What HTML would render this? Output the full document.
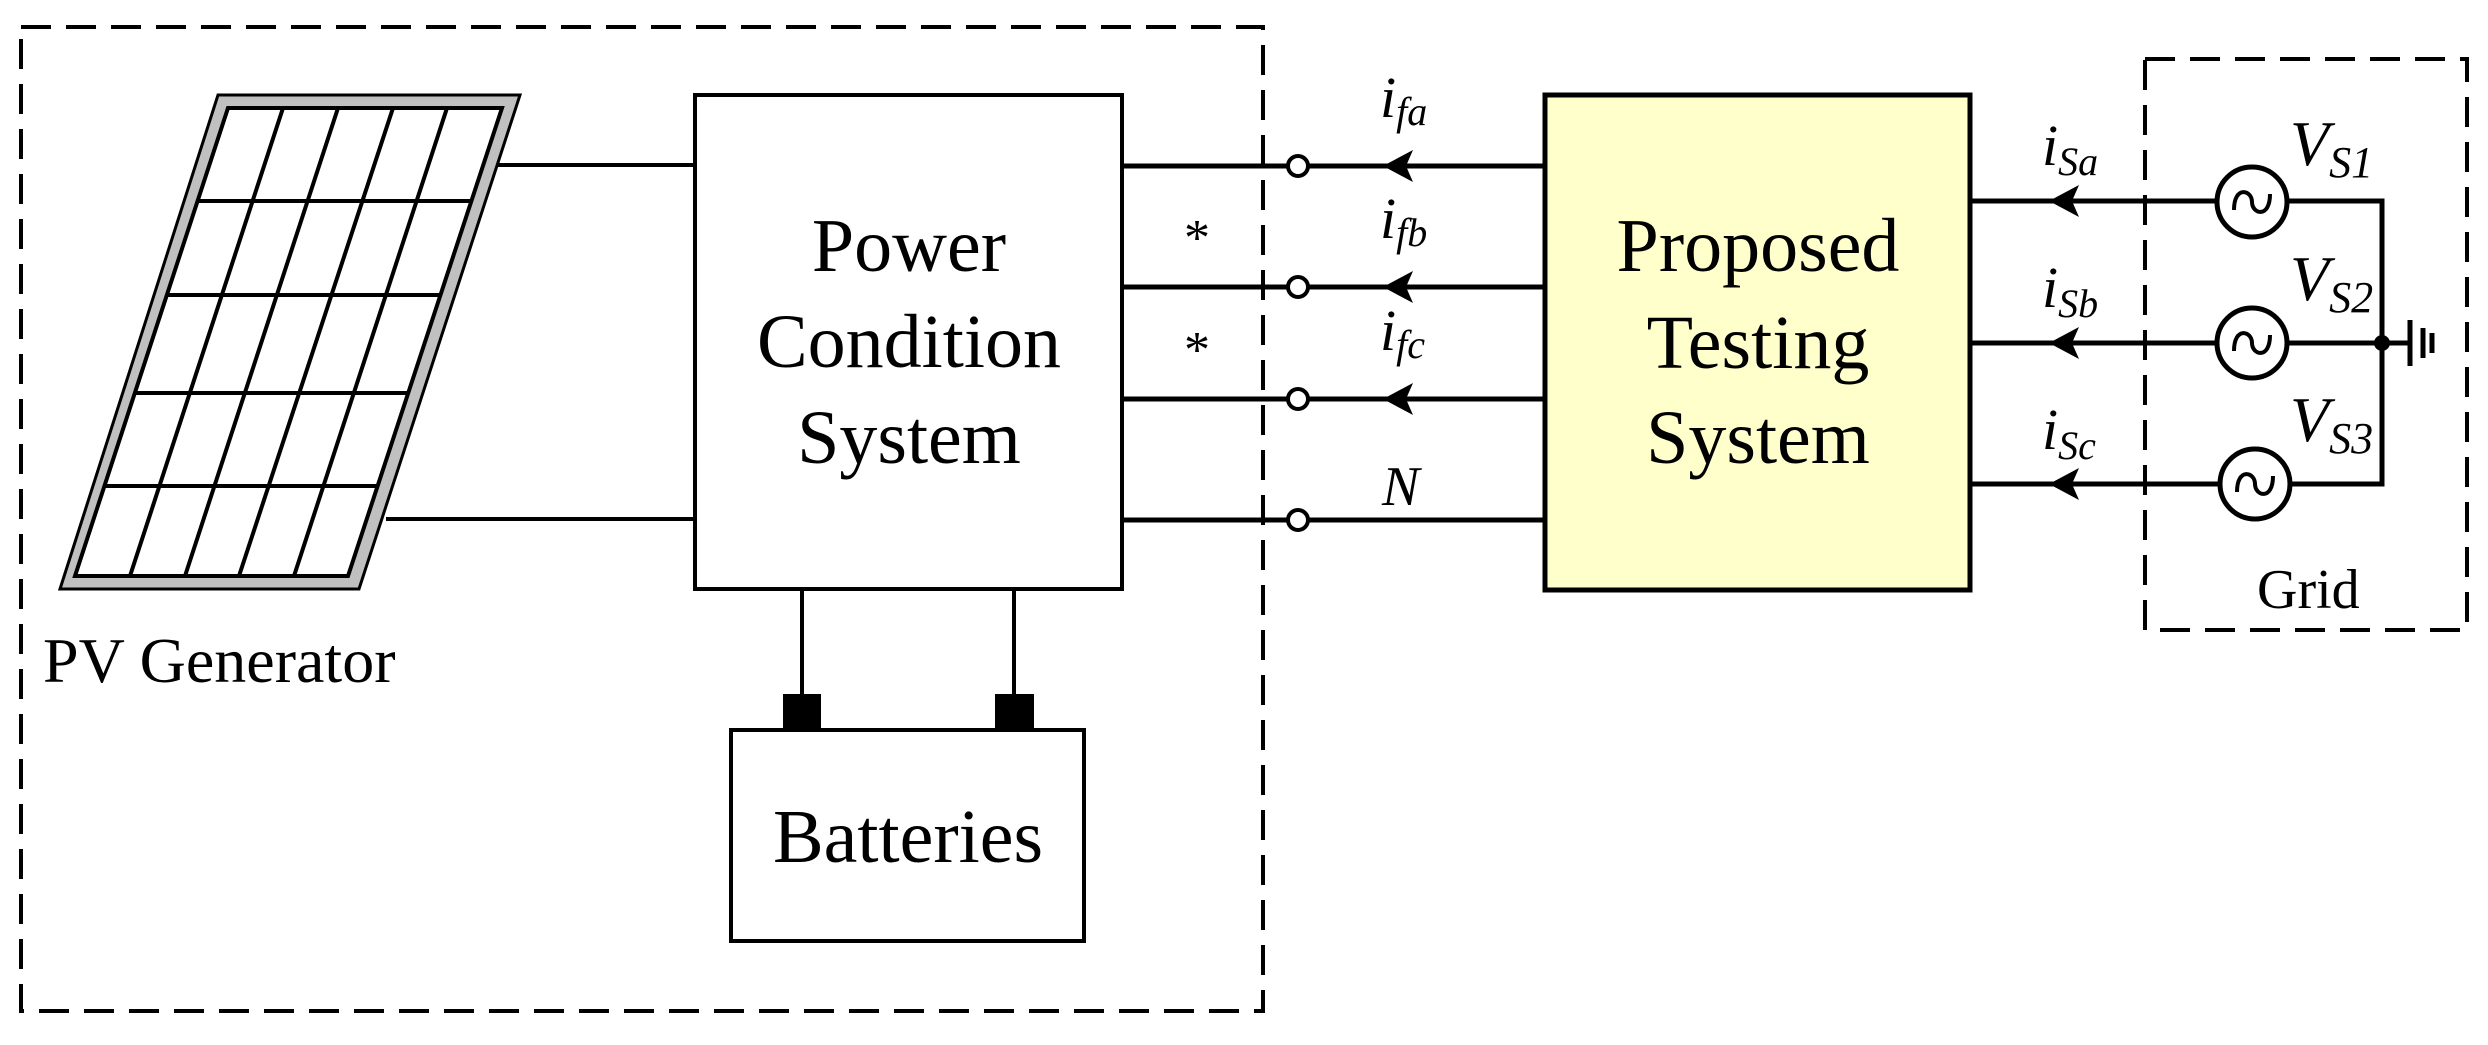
<!DOCTYPE html>
<html><head><meta charset="utf-8"><style>html,body{margin:0;padding:0;background:#fff}svg{display:block}</style></head>
<body>
<svg width="2488" height="1045" viewBox="0 0 2488 1045" xmlns="http://www.w3.org/2000/svg" font-family="'Liberation Serif', serif">
<rect width="2488" height="1045" fill="#fff"/>
<!-- dashed boxes -->
<rect x="21" y="27" width="1242" height="984" fill="none" stroke="#000" stroke-width="4" stroke-dasharray="30,15"/>
<rect x="2145" y="59" width="322" height="571" fill="none" stroke="#000" stroke-width="4" stroke-dasharray="30,15"/>
<!-- PV panel -->
<polygon points="218,95 520,95 359,589 60,589" fill="#c0c0c0" stroke="#000" stroke-width="3"/>
<polygon points="228,108 502,108 348,576 75,576" fill="#fff" stroke="#000" stroke-width="4"/>
<g stroke="#000" stroke-width="4">
<line x1="197.6" y1="201" x2="471.4" y2="201"/>
<line x1="166.9" y1="295" x2="440.5" y2="295"/>
<line x1="134.8" y1="393" x2="408.2" y2="393"/>
<line x1="104.4" y1="486" x2="377.6" y2="486"/>
<line x1="283" y1="108" x2="130" y2="576"/>
<line x1="338" y1="108" x2="185" y2="576"/>
<line x1="393" y1="108" x2="239" y2="576"/>
<line x1="447" y1="108" x2="294" y2="576"/>
</g>
<g stroke="#000" stroke-width="4" fill="none">
<line x1="497" y1="165" x2="695" y2="165"/>
<line x1="386" y1="519" x2="695" y2="519"/>
<rect x="695" y="95" width="427" height="494"/>
<line x1="802" y1="589" x2="802" y2="694"/>
<line x1="1014" y1="589" x2="1014" y2="694"/>
<rect x="731" y="730" width="353" height="211"/>
</g>
<rect x="783" y="694" width="38" height="36" fill="#000"/>
<rect x="995" y="694" width="39" height="36" fill="#000"/>
<!-- outputs -->
<g stroke="#000" stroke-width="5" fill="none">
<line x1="1122" y1="166" x2="1545" y2="166"/>
<line x1="1122" y1="287" x2="1545" y2="287"/>
<line x1="1122" y1="399" x2="1545" y2="399"/>
<line x1="1122" y1="520" x2="1545" y2="520"/>
</g>
<g stroke="#000" stroke-width="4" fill="#fff">
<circle cx="1298" cy="166" r="10"/>
<circle cx="1298" cy="287" r="10"/>
<circle cx="1298" cy="399" r="10"/>
<circle cx="1298" cy="520" r="10"/>
</g>
<g fill="#000">
<polygon points="1383,166 1413,150 1406,166 1413,182"/>
<polygon points="1383,287 1413,271 1406,287 1413,303"/>
<polygon points="1383,399 1413,383 1406,399 1413,415"/>
</g>
<!-- PTS -->
<rect x="1545" y="95" width="425" height="495" fill="#ffffcc" stroke="#000" stroke-width="5"/>
<!-- grid side -->
<g stroke="#000" stroke-width="5" fill="none">
<line x1="1970" y1="201" x2="2216" y2="201"/>
<line x1="1970" y1="343" x2="2216" y2="343"/>
<line x1="1970" y1="484" x2="2219" y2="484"/>
<polyline points="2288,201 2382,201 2382,484 2291,484"/>
<line x1="2288" y1="343" x2="2410" y2="343"/>
<circle cx="2252" cy="202" r="35"/>
<circle cx="2252" cy="343" r="35"/>
<circle cx="2255" cy="484" r="35"/>
<line x1="2410" y1="320" x2="2410" y2="366"/>
<line x1="2423" y1="328" x2="2423" y2="358"/>
<line x1="2432" y1="333" x2="2432" y2="353"/>
</g>
<g stroke="#000" stroke-width="4" fill="none">
<path d="M2234,210 C2234,185 2252,190 2252,202 C2252,214 2270,219 2270,194"/>
<path d="M2234,351 C2234,326 2252,331 2252,343 C2252,355 2270,360 2270,335"/>
<path d="M2237,492 C2237,467 2255,472 2255,484 C2255,496 2273,501 2273,476"/>
</g>
<circle cx="2382" cy="343" r="8" fill="#000"/>
<g fill="#000">
<polygon points="2049,201 2079,185 2072,201 2079,217"/>
<polygon points="2049,343 2079,327 2072,343 2079,359"/>
<polygon points="2049,484 2079,468 2072,484 2079,500"/>
</g>
<!-- text -->
<g font-size="76" text-anchor="middle" fill="#000">
<text x="909" y="271">Power</text>
<text x="909" y="367">Condition</text>
<text x="909" y="463">System</text>
<text x="908" y="862">Batteries</text>
<text x="1758" y="271">Proposed</text>
<text x="1758" y="368">Testing</text>
<text x="1758" y="463">System</text>
</g>
<text x="43" y="682" font-size="64" fill="#000">PV Generator</text>
<text x="2257" y="608" font-size="56" fill="#000">Grid</text>
<g font-size="52" text-anchor="middle" fill="#000">
<text x="1197" y="255">*</text>
<text x="1197" y="367">*</text>
</g>
<g font-style="italic" fill="#000">
<text x="1380" y="117" font-size="58">i<tspan font-size="40" dy="8">fa</tspan></text>
<text x="1380" y="238" font-size="58">i<tspan font-size="40" dy="8">fb</tspan></text>
<text x="1380" y="350" font-size="58">i<tspan font-size="40" dy="8">fc</tspan></text>
<text x="1382" y="505" font-size="56">N</text>
<text x="2042" y="165" font-size="58">i<tspan font-size="40" dy="10">Sa</tspan></text>
<text x="2042" y="307" font-size="58">i<tspan font-size="40" dy="10">Sb</tspan></text>
<text x="2042" y="449" font-size="58">i<tspan font-size="40" dy="10">Sc</tspan></text>
<text x="2290" y="165" font-size="64">V<tspan font-size="44" dy="12">S1</tspan></text>
<text x="2290" y="300" font-size="64">V<tspan font-size="44" dy="12">S2</tspan></text>
<text x="2290" y="441" font-size="64">V<tspan font-size="44" dy="12">S3</tspan></text>
</g>
</svg>
</body></html>
